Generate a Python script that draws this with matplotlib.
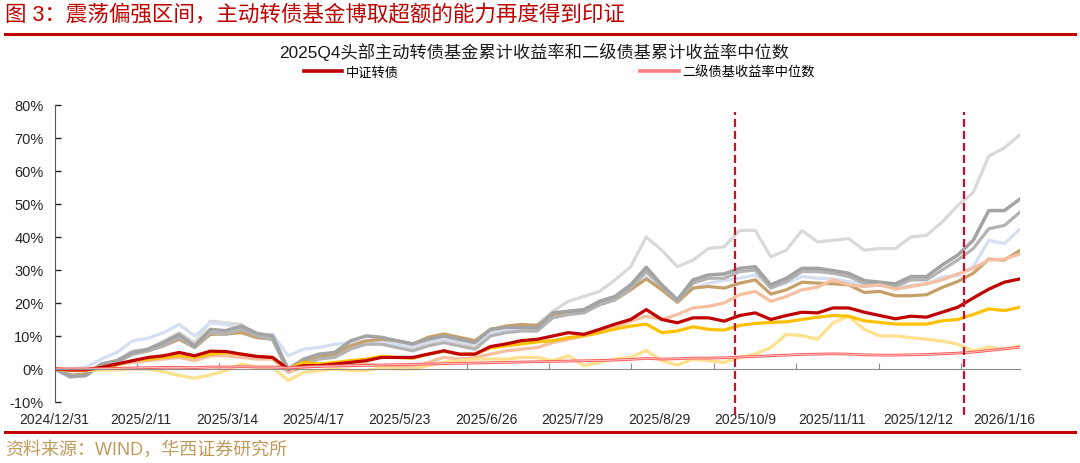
import numpy as np
import matplotlib
matplotlib.use('Agg')
import matplotlib.pyplot as plt
from matplotlib.lines import Line2D

plt.rcParams['font.family'] = ['Liberation Sans', 'Noto Sans CJK SC', 'DejaVu Sans']

# 横轴：交易日序号（类目轴），每 21 个交易日一个刻度，每 22 个交易日一个标签
n_days = 246
tick_step = 21
label_step = 22
date_labels = ['2024/12/31', '2025/2/11', '2025/3/14', '2025/4/17', '2025/5/23', '2025/6/26',
               '2025/7/29', '2025/8/29', '2025/10/9', '2025/11/11', '2025/12/12', '2026/1/16']
event_days = [173.4, 231.7]   # 两条红色虚线（季度切换）

# 各基金累计收益率（%），按约 4 个交易日取样读数
light_gray = [0, -1.5, -1.5, 1.5, 2.5, 5.5, 6, 8.5, 11, 8, 14.5, 14, 13.5, 10.5, 9.5, -0.5,
              2.5, 4, 4.5, 7.5, 8.5, 8.5, 7.5, 6.5, 8, 9, 8, 6.5, 11, 12, 12.5, 13.5,
              17.5, 20.5, 22, 23.5, 27, 31, 40, 36, 31, 33, 36.5, 37, 42, 42, 34, 36,
              42, 38.5, 39, 39.5, 36, 36.5, 36.5, 40, 40.5, 44.5, 49.5, 53.5, 64.5, 67, 71]
dark_gray = [0, -2, -2, 1.5, 2.5, 5, 6, 8, 10.5, 7, 12, 11.6, 13, 10.8, 10, 0,
             3, 4.5, 5, 8.5, 10, 9.6, 8.5, 7.6, 9, 10, 9, 8, 12, 12.6, 12.6, 12.5,
             17, 17.5, 18, 20.5, 22, 25.5, 30.8, 25.5, 21, 27, 28.5, 28.8, 30.5, 31, 25.5, 27.5,
             30.5, 30.5, 29.8, 29, 26.8, 26.3, 25.8, 28, 28, 31.5, 34.5, 39, 48, 48, 51.5]
mid_gray = [0, -2.5, -2, 1, 2, 4.5, 5.5, 7, 9.5, 6.5, 11, 10.5, 12, 10, 9, -1,
            1.5, 3, 3.5, 6, 7.5, 7.5, 6.5, 5.5, 7, 8, 7, 6, 10, 11, 11.5, 11.5,
            15.5, 16.5, 17, 19.5, 21, 24.5, 29.5, 25, 20.5, 26, 27.5, 27.5, 29.5, 30, 24.5, 26.5,
            29.5, 29.5, 29, 28, 26, 25.5, 25, 27, 27, 30, 33, 36.5, 42.5, 43.5, 47.5]
light_blue = [0, 0, 0.5, 3, 5, 8.5, 9.3, 11, 13.5, 10, 14, 13.5, 12, 10, 10.6, 4,
              6, 6.5, 7.5, 8, 8.5, 8, 7.5, 7, 8.5, 9.5, 8.5, 7.5, 10.5, 12, 12, 12,
              15.5, 17, 17.5, 19.5, 21, 24, 28, 24, 20.5, 24.5, 26, 26.8, 27.5, 28.5, 24.7, 26,
              28, 27.5, 27.3, 26.5, 25.8, 25.3, 24.7, 25.3, 25.8, 27.8, 28.3, 31, 39, 38, 42.4]
tan = [0, -2, -1.5, 1, 2, 4.5, 5.5, 7, 9, 6.5, 10.5, 10.6, 11, 9.5, 9, -0.5,
       2, 3.5, 4.5, 7, 8.5, 9, 8.6, 7.6, 9.6, 10.6, 9.6, 8.6, 12, 13, 13.5, 13.2,
       16.5, 17, 17.5, 19.5, 21, 24, 27.3, 24, 20.2, 24.5, 25, 24.5, 26, 27, 22.7, 24,
       26.3, 26, 25.8, 25.5, 23.2, 23.5, 22.2, 22.2, 22.5, 24.7, 26.5, 29, 33.3, 33, 35.9]
peach = [0, 0, 0, 0.5, 1.5, 2, 2.5, 3, 3.5, 2.5, 4, 4, 3.5, 3, 3, -1,
         0.5, 1, 1, 1, 1.5, 1, 0.5, 0.5, 2, 3.5, 3, 3.5, 4.5, 5.5, 6, 6.5,
         8, 9, 10, 11, 12.6, 14.5, 16, 15, 16.5, 18.5, 19, 20, 22.5, 23.5, 20.5, 22,
         24, 24.8, 27, 25.5, 25, 25.5, 24.2, 25, 25.8, 27, 28.8, 30.5, 33, 33.3, 34.8]
zz_cb = [0, -0.3, -0.3, 0.5, 1.5, 2.5, 3.5, 4, 5, 4, 5.4, 5.3, 4.5, 3.8, 3.5, 0,
         1, 1, 1.5, 2, 2.5, 3.5, 3.5, 3.5, 4.5, 5.5, 4.5, 4.5, 6.8, 7.6, 8.6, 9,
         10, 11, 10.5, 12, 13.6, 15, 18, 15, 14, 15.5, 15.5, 14.5, 16.2, 17, 15, 16.2,
         17.2, 17, 18.5, 18.5, 17.2, 16.2, 15.2, 16, 15.7, 17.2, 18.7, 21.5, 24.2, 26.3, 27.3]
gold = [0, -0.3, -0.3, 0.3, 1.2, 2.5, 3, 3.5, 4, 3.5, 4.5, 5, 4.5, 3.8, 3.5, 0,
        2, 1.5, 2, 2.5, 3, 3.8, 3.5, 3.2, 4.5, 5.4, 4.5, 4.5, 6.4, 7, 7.6, 8.2,
        8.6, 9.5, 10.1, 11, 12.1, 13, 13.6, 11, 11.5, 12.8, 12, 11.8, 13.2, 13.8, 14.1, 14.3,
        15, 15.7, 16.2, 16, 14.6, 14.1, 13.6, 13.6, 13.6, 14.6, 15, 16.5, 18.2, 17.7, 18.7]
light_yellow = [0, -0.5, -0.5, -0.3, -0.3, 0, 0, -0.8, -2, -2.8, -1.8, -0.5, 1.5, 0.5, 0.5, -3.5,
                -1, -0.5, 0, -0.5, -0.5, 0.3, 0, 0, 1, 2, 2.5, 3, 3, 3, 3.5, 3.5,
                2.5, 4, 1, 2, 3, 3.5, 5.6, 2.5, 1.2, 3, 2.5, 2, 3.5, 4.5, 6.5, 10.5,
                10.1, 9, 14, 16, 12, 10, 10, 9.5, 9, 8.5, 7.5, 5.5, 6.6, 6, 7]
bond_median = [0, 0, 0, 0.1, 0.2, 0.3, 0.4, 0.5, 0.5, 0.4, 0.6, 0.6, 0.7, 0.6, 0.6, 0.3,
               0.6, 0.8, 0.9, 1.0, 1.1, 1.2, 1.3, 1.4, 1.5, 1.6, 1.7, 1.8, 1.9, 2.0, 2.1, 2.2,
               2.3, 2.4, 2.5, 2.6, 2.7, 2.9, 3.2, 3.0, 3.1, 3.3, 3.3, 3.4, 3.6, 3.8, 4.0, 4.2,
               4.4, 4.5, 4.6, 4.5, 4.3, 4.2, 4.2, 4.3, 4.4, 4.6, 4.8, 5.1, 5.6, 6.1, 6.6]

x = np.arange(len(zz_cb)) * n_days / (len(zz_cb) - 1)

fig = plt.figure(figsize=(10.8, 4.64), dpi=100)
ax = fig.add_axes([0.0505, 0.1315, 0.8939, 0.6401])

# 头部主动转债基金（无图例）
ax.plot(x, light_gray, color='#D9D9D9', lw=2.3)
ax.plot(x, light_blue, color='#D5DFF1', lw=2.3)
ax.plot(x, tan, color='#C6A068', lw=2.3)
ax.plot(x, mid_gray, color='#B3B3B3', lw=2.3)
ax.plot(x, dark_gray, color='#A3A3A3', lw=2.5)
ax.plot(x, peach, color='#F5BFA0', lw=2.3)
ax.plot(x, light_yellow, color='#FFE08C', lw=2.3)
ax.plot(x, gold, color='#FFC000', lw=2.3)
ax.plot(x, zz_cb, color='#C00000', lw=2.3)
ax.plot(x, bond_median, color='#FF6060', lw=2.0)
ax.plot(x, bond_median, color='#FFE0E0', lw=0.5)

for d in event_days:
    ax.plot([d, d], [-14, 78], color='#C8102E', lw=1.6, ls=(0, (3.6, 1.8)), clip_on=False, zorder=5)

ax.set_xlim(0, n_days)
ax.set_ylim(-10, 80)
ax.set_yticks(np.arange(-10, 81, 10))
ax.set_yticklabels([f'{v}%' for v in range(-10, 81, 10)])
ax.tick_params(axis='y', direction='in', length=4, pad=8, labelsize=10.5,
               colors='#262626', width=1)

# 横轴线在 0 处，刻度朝上
ax.spines['bottom'].set_position(('data', 0))
ax.spines['bottom'].set_color('#8C8C8C')
ax.spines['left'].set_color('#595959')
ax.spines['top'].set_visible(False)
ax.spines['right'].set_visible(False)
ax.set_xticks(np.arange(0, n_days + 1, tick_step))
ax.tick_params(axis='x', direction='in', length=4, color='#8C8C8C', labelbottom=False)

# 日期标签放在图底部
sec = ax.secondary_xaxis('bottom')
sec.set_xticks(np.arange(len(date_labels)) * label_step)
sec.set_xticklabels(date_labels)
sec.tick_params(length=0, pad=7, labelsize=10, colors='#262626')
sec.spines['bottom'].set_visible(False)

handles = [Line2D([], [], color='#C00000', lw=2.6),
           Line2D([], [], color='#FF7C80', lw=2.6)]
fig.legend(handles, ['中证转债', '二级债基收益率中位数'], loc='center',
           bbox_to_anchor=(0.518, 0.843), ncol=2, frameon=False, fontsize=9.5,
           handlelength=2.9, handletextpad=0.3, columnspacing=18.3)

fig.text(0.005, 0.965, '图 3：震荡偏强区间，主动转债基金博取超额的能力再度得到印证',
         color='#C00000', fontsize=15.5, va='center', ha='left')
fig.add_artist(Line2D([0.005, 0.995], [1 - 35 / 464] * 2, color='#C00000', lw=2.2))
fig.text(0.495, 1 - 52 / 464, '2025Q4头部主动转债基金累计收益率和二级债基累计收益率中位数',
         color='#1A1A1A', fontsize=12.4, ha='center', va='center')
fig.add_artist(Line2D([0.005, 0.995], [1 - 433 / 464] * 2, color='#C00000', lw=2.2))
fig.text(0.005, 1 - 450 / 464, '资料来源：WIND，华西证券研究所', color='#C09A5B',
         fontsize=13, ha='left', va='center')

fig.savefig('out.png', dpi=100)
